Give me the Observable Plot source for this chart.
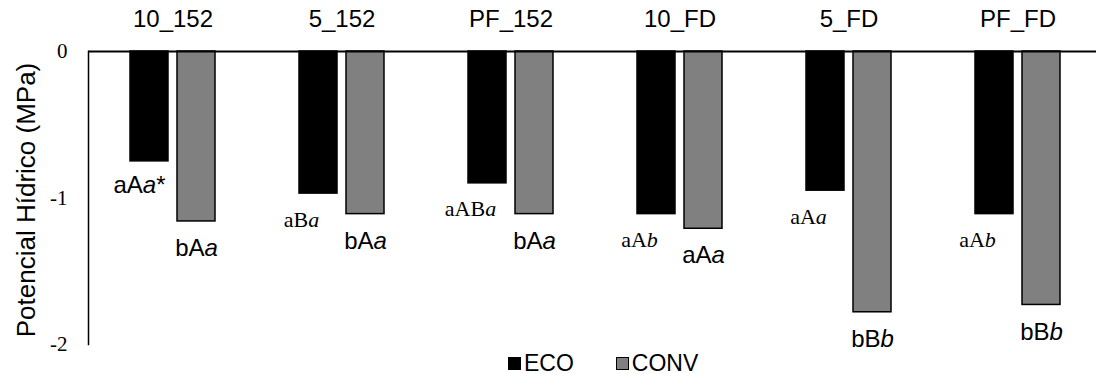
<!DOCTYPE html>
<html>
<head>
<meta charset="utf-8">
<script src="https://cdn.jsdelivr.net/npm/d3@7"></script>
<script src="https://cdn.jsdelivr.net/npm/@observablehq/plot@0.6"></script>
<style>
  html, body { margin: 0; padding: 0; background: #fff; overflow: hidden; }
  #chart svg { display: block; overflow: visible; }
  #legend { height: 22px; line-height: 22px; display: flex; align-items: center;
            font-family: "Liberation Sans", Arial, sans-serif; font-size: 23px; color: #000;
            padding-left: 508px; }
  #legend .sw { width: 13px; height: 13px; box-sizing: border-box; margin-right: 3px; }
  #legend .item { display: flex; align-items: center; margin-right: 42px; }
</style>
</head>
<body>
<div id="chart"></div>
<div id="legend"></div>
<script>
// ---- data ----
const categories = ["10_152", "5_152", "PF_152", "10_FD", "5_FD", "PF_FD"];
const series = ["ECO", "CONV"];
const ecoValues = [-0.75, -0.97, -0.90, -1.11, -0.95, -1.11];
const convValues = [-1.16, -1.11, -1.11, -1.21, -1.78, -1.73];
// {x} marks an italic letter
const ecoLabels = ["aA{a}*", "aB{a}", "aAB{a}", "aA{b}", "aA{a}", "aA{b}"];
const convLabels = ["bA{a}", "bA{a}", "bA{a}", "aA{a}", "bB{b}", "bB{b}"];
const yTicks = [0, -1, -2];
const yTitle = "Potencial Hídrico (MPa)";

// ---- styles / layout ----
const SANS = "'Liberation Sans', Arial, sans-serif";
const SERIF = "'Liberation Serif', 'Times New Roman', serif";
const colors = ["#000000", "#808080"];
const serifEcoLabelCats = new Set(["5_152", "PF_152", "10_FD", "5_FD", "PF_FD"]);
const W = 1096, H = 352, ML = 86, MR = -7, MT = 51, MB = 8;
const X_PAD_INNER = 0.1875, X_PAD_OUTER = 0.859;

const rows = categories.flatMap((c, i) => [
  {cat: c, series: "ECO", value: ecoValues[i], label: ecoLabels[i]},
  {cat: c, series: "CONV", value: convValues[i], label: convLabels[i]}
]);
const titleRow = [{cat: categories[0], t: yTitle}];

const chart = Plot.plot({
  width: W,
  height: H,
  marginLeft: ML,
  marginRight: MR,
  marginTop: MT,
  marginBottom: MB,
  style: {fontFamily: SANS, background: "#fff", color: "#000"},
  fx: {domain: categories, padding: 0},
  x: {domain: series, axis: null, paddingInner: X_PAD_INNER, paddingOuter: X_PAD_OUTER},
  y: {domain: [-2, 0], axis: null},
  color: {domain: series, range: colors},
  marks: [
    Plot.barY(rows, {fx: "cat", x: "series", y: "value", fill: "series", stroke: "#000", strokeWidth: 1.5}),
    Plot.ruleY([0], {stroke: "#000", strokeWidth: 2}),
    // y axis line: left edge of the leftmost facet only
    Plot.frame({anchor: "left", facetAnchor: "left", stroke: "#000", strokeWidth: 1.5}),
    // y tick labels
    Plot.text(yTicks.map(v => ({cat: categories[0], v})), {fx: "cat", y: "v", text: d => String(d.v),
               frameAnchor: "left", textAnchor: "end", dx: -21, fontFamily: SERIF, fontSize: 21}),
    Plot.axisFx({anchor: "top", tickSize: 0, tickPadding: 25, fontSize: 24, fontFamily: SANS, label: null}),
    Plot.text(titleRow, {fx: "cat", text: "t", frameAnchor: "left", textAnchor: "middle", rotate: -90,
                dx: -62, dy: 2, fontSize: 26, fontFamily: SANS}),
    Plot.text(rows, {filter: d => d.series === "CONV", fx: "cat", x: "series", y: "value", text: "label",
                     dy: 27, fontSize: 24, fontFamily: SANS}),
    Plot.text(rows, {filter: d => d.series === "ECO" && !serifEcoLabelCats.has(d.cat), fx: "cat", x: "series",
                     y: "value", text: "label", dx: -10, dy: 24, fontSize: 24, fontFamily: SANS}),
    Plot.text(rows, {filter: d => d.series === "ECO" && serifEcoLabelCats.has(d.cat), fx: "cat", x: "series",
                     y: "value", text: "label", dx: -17, dy: 26, fontSize: 22, fontFamily: SERIF})
  ]
});
document.getElementById("chart").appendChild(chart);

// italic letters: turn {x} into italic tspans
chart.querySelectorAll("text").forEach(t => {
  const s = t.textContent;
  if (!s.includes("{")) return;
  t.textContent = "";
  s.split(/(\{[^}]*\})/).filter(p => p.length).forEach(p => {
    const ts = document.createElementNS("http://www.w3.org/2000/svg", "tspan");
    if (p.startsWith("{")) { ts.textContent = p.slice(1, -1); ts.setAttribute("font-style", "italic"); }
    else ts.textContent = p;
    t.appendChild(ts);
  });
});

// legend
const legend = document.getElementById("legend");
series.forEach((s, i) => {
  const item = document.createElement("div");
  item.className = "item";
  const sw = document.createElement("div");
  sw.className = "sw";
  sw.style.background = colors[i];
  sw.style.border = "1.5px solid #000";
  const lab = document.createElement("span");
  lab.textContent = s;
  item.appendChild(sw); item.appendChild(lab);
  legend.appendChild(item);
});
</script>
</body>
</html>
